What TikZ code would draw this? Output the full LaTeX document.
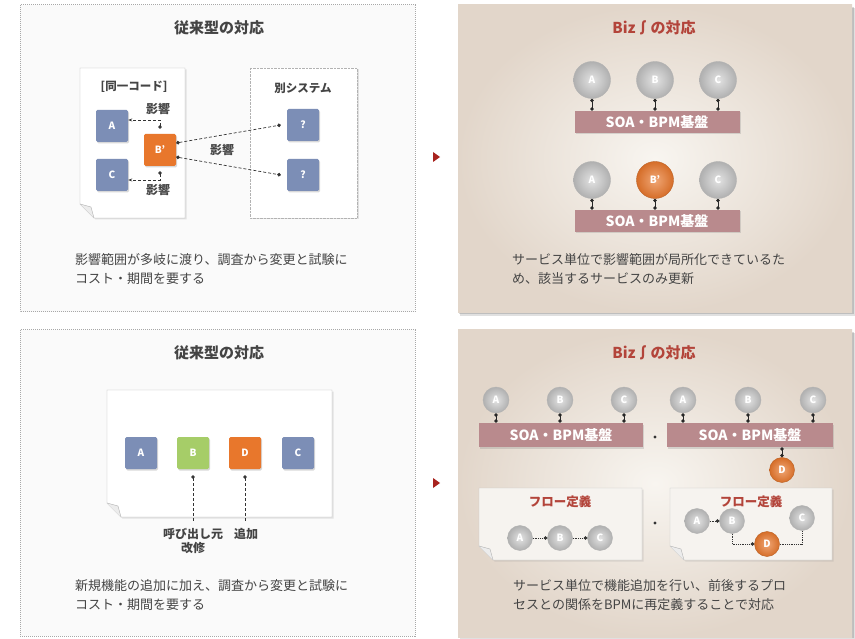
\documentclass[tikz,border=0pt]{standalone}
\usepackage{fontspec}
\setmainfont{Noto Sans CJK JP}
\usetikzlibrary{arrows.meta,shadows,calc}
\definecolor{sqblue}{HTML}{7C8EB6}
\definecolor{sqorange}{HTML}{E8772C}
\definecolor{sqgreen}{HTML}{A6CD68}
\definecolor{barrose}{HTML}{B98A8D}
\definecolor{titred}{HTML}{B3443A}
\definecolor{dashgray}{HTML}{A8A8A8}
\definecolor{txtdark}{HTML}{444444}
\definecolor{lpfill}{HTML}{FAFAFA}
\definecolor{rpin}{HTML}{F8F5F0}
\definecolor{rpout}{HTML}{E2D6CA}
\definecolor{markred}{HTML}{A8231E}
\definecolor{flowfill}{HTML}{F6F3EF}
\newcommand{\docpage}[5][]{%
  \draw[#1] (#2,#3) -- (#4,#3) -- (#4,#5) -- ($(#2,#5)+(14,0)$) -- ($(#2,#5)+(0,-14)$) -- cycle;
  \draw[draw=gray!60, fill=gray!15] ($(#2,#5)+(0,-14)$) -- ($(#2,#5)+(11,-11)$) -- ($(#2,#5)+(14,0)$);
}
\tikzset{
  lpanel/.style={draw=dashgray, densely dotted, line width=1pt, fill=lpfill},
  ttl/.style={font=\fontsize{15}{17}\selectfont\bfseries, text=txtdark},
  rttl/.style={font=\fontsize{15}{17}\selectfont\bfseries, text=titred},
  ftl/.style={font=\fontsize{12.5}{14}\selectfont\bfseries, text=titred},
  body/.style={font=\fontsize{13}{19}\selectfont, text=txtdark, align=left, anchor=north west, inner sep=0pt},
  lbl/.style={font=\fontsize{12}{14}\selectfont\bfseries, text=txtdark, inner sep=0pt},
  doclbl/.style={font=\fontsize{11.5}{13}\selectfont\bfseries, text=txtdark},
  sq/.style={rectangle, minimum size=32pt, rounded corners=1.5pt, inner sep=0pt, text=white,
    font=\fontsize{10}{11}\selectfont\bfseries,
    drop shadow={opacity=0.3, shadow xshift=1.2pt, shadow yshift=-1.5pt}},
  sqb/.style={sq, fill=sqblue},
  sqo/.style={sq, fill=sqorange},
  sqg/.style={sq, fill=sqgreen},
  ballg/.style={circle, inner sep=0pt, draw=gray!60, line width=0.4pt, shade, shading=radial,
    inner color=gray!22, outer color=gray!62, text=white, font=\fontsize{10}{11}\selectfont\bfseries},
  ballo/.style={circle, inner sep=0pt, draw=sqorange!80!black, line width=0.4pt, shade, shading=radial,
    inner color=sqorange!65!white, outer color=sqorange!92!black, text=white, font=\fontsize{10}{11}\selectfont\bfseries},
  bar/.style={rectangle, fill=barrose, text=white, inner sep=0pt, font=\fontsize{14}{16}\selectfont\bfseries,
    drop shadow={opacity=0.25, shadow xshift=1pt, shadow yshift=-1.5pt}},
  dconn/.style={densely dashed, line width=0.7pt, draw=black!80},
  fconn/.style={densely dotted, line width=0.8pt, draw=black!80},
  sconn/.style={line width=0.9pt, draw=black!85},
  bothdots/.style={{Circle[length=3.6pt]}-{Circle[length=3.6pt]}},
  enddot/.style={-{Circle[length=3.6pt]}},
  startdot/.style={{Circle[length=3.6pt]}-},
  sepdot/.style={circle, fill=black!80, inner sep=0pt, minimum size=3.4pt},
}
\begin{document}
\begin{tikzpicture}[x=1pt,y=-1pt]
\useasboundingbox (0,0) rectangle (855,639);
\fill[white] (0,0) rectangle (855,639);

% ================= top-left panel =================
\draw[lpanel] (20,5) rectangle (415,312);
\node[ttl] (t1) at (219,28) {従来型の対応};
\docpage[draw=gray!55, fill=white, drop shadow={opacity=0.2, shadow xshift=1.5pt, shadow yshift=-1.5pt}]{80}{68}{185}{218}
\draw[draw=gray!60, densely dotted, fill=white, drop shadow={opacity=0.2, shadow xshift=1.5pt, shadow yshift=-1.5pt}] (250,68) rectangle (357,218);
\node[doclbl] (l1) at (134,87) {[同一コード]};
\node[doclbl] (l2) at (303,88) {別システム};
\node[sqb] (A1) at (112,126) {A};
\node[sqb] (C1) at (112,175) {C};
\node[sqo] (B1) at (160,150) {B'};
\node[sqb] (Q1) at (303,125) {?};
\node[sqb] (Q2) at (303,175) {?};
\draw[dconn, {Circle[length=3.6pt]}-{Stealth[length=4pt]}] ([yshift=5pt]B1.north) |- ([yshift=6pt]A1.east);
\draw[dconn, {Circle[length=3.6pt]}-{Stealth[length=4pt]}] ([yshift=-5pt]B1.south) |- ([yshift=-5pt]C1.east);
\node[lbl] (e1) at (158,109) {影響};
\node[lbl] (e2) at (158,190) {影響};
\draw[dconn, bothdots] ([yshift=7pt]B1.east) -- ([xshift=-6pt]Q1.west);
\draw[dconn, bothdots] ([yshift=-7pt]B1.east) -- ([xshift=-6pt]Q2.west);
\node[lbl] (e3) at (222,150) {影響};
\node[body] (d1) at (75,253) {影響範囲が多岐に渡り、調査から変更と試験に\\コスト・期間を要する};

% markers
\fill[markred] (433,152) -- (440,157) -- (433,162) -- cycle;
\fill[markred] (433,478) -- (440,483) -- (433,488) -- cycle;

% ================= top-right panel =================
\fill[black, opacity=0.12] (460,8) rectangle (855,316);
\fill[black, opacity=0.15] (459,7) rectangle (853.5,314.5);
\shade[inner color=rpin, outer color=rpout] (458,5) rectangle (852,313);
\node[rttl] (t2) at (654,28) {Biz∫の対応};
\node[bar, minimum width=165pt, minimum height=22pt] (bar1) at (657,122) {SOA・BPM基盤};
\node[ballg, minimum size=37pt] (ra1) at (592,80) {A};
\node[ballg, minimum size=37pt] (rb1) at (655,80) {B};
\node[ballg, minimum size=37pt] (rc1) at (718,80) {C};
\foreach \n in {ra1,rb1,rc1}{\draw[sconn, bothdots] (\n.south) -- (\n.south |- bar1.north);}
\node[bar, minimum width=165pt, minimum height=22pt] (bar2) at (657,221) {SOA・BPM基盤};
\node[ballg, minimum size=37pt] (ra2) at (592,180) {A};
\node[ballo, minimum size=37pt] (rb2) at (655,180) {B'};
\node[ballg, minimum size=37pt] (rc2) at (718,180) {C};
\foreach \n in {ra2,rb2,rc2}{\draw[sconn, bothdots] (\n.south) -- (\n.south |- bar2.north);}
\node[body] (d2) at (512,253) {サービス単位で影響範囲が局所化できているた\\め、該当するサービスのみ更新};

% ================= bottom-left panel =================
\draw[lpanel] (20,330) rectangle (415,636);
\node[ttl] (t3) at (219,353) {従来型の対応};
\docpage[draw=gray!55, fill=white, drop shadow={opacity=0.2, shadow xshift=1.5pt, shadow yshift=-1.5pt}]{107}{390}{332}{517}
\node[sqb] (A3) at (141,453) {A};
\node[sqg] (B3) at (193,453) {B};
\node[sqo] (D3) at (245,453) {D};
\node[sqb] (C3) at (298,453) {C};
\coordinate (pB) at (193,521);
\coordinate (pD) at (245,521);
\draw[dconn, startdot] ([yshift=-6pt]B3.south) -- (pB);
\draw[dconn, startdot] ([yshift=-6pt]D3.south) -- (pD);
\node[lbl, align=center, anchor=north] (k1) at (193,528) {呼び出し元\\改修};
\node[lbl, anchor=north] (k2) at (246,528) {追加};
\node[body] (d3) at (75,579) {新規機能の追加に加え、調査から変更と試験に\\コスト・期間を要する};

% ================= bottom-right panel =================
\fill[black, opacity=0.12] (460,333) rectangle (855,639);
\fill[black, opacity=0.15] (459,332) rectangle (853.5,638);
\shade[inner color=rpin, outer color=rpout] (458,330) rectangle (852,637);
\node[rttl] (t4) at (654,353) {Biz∫の対応};
\node[bar, minimum width=164pt, minimum height=24pt] (bar3) at (561,435) {SOA・BPM基盤};
\node[bar, minimum width=166pt, minimum height=24pt] (bar4) at (750,435) {SOA・BPM基盤};
\node[ballg, minimum size=26pt] (sa1) at (496,400) {A};
\node[ballg, minimum size=26pt] (sb1) at (560,400) {B};
\node[ballg, minimum size=26pt] (sc1) at (624,400) {C};
\node[ballg, minimum size=26pt] (sa2) at (683,400) {A};
\node[ballg, minimum size=26pt] (sb2) at (748,400) {B};
\node[ballg, minimum size=26pt] (sc2) at (813,400) {C};
\foreach \n in {sa1,sb1,sc1}{\draw[sconn, bothdots] (\n.south) -- (\n.south |- bar3.north);}
\foreach \n in {sa2,sb2,sc2}{\draw[sconn, bothdots] (\n.south) -- (\n.south |- bar4.north);}
\node[sepdot] (s1) at (655,437) {};
\node[ballo, minimum size=25pt] (sd) at (782,470) {D};
\draw[sconn, bothdots] (sd.north |- bar4.south) -- (sd.north);

\docpage[draw=gray!45, fill=flowfill, drop shadow={opacity=0.18, shadow xshift=1.5pt, shadow yshift=-1.5pt}]{479}{488}{642}{560}
\docpage[draw=gray!45, fill=flowfill, drop shadow={opacity=0.18, shadow xshift=1.5pt, shadow yshift=-1.5pt}]{670}{488}{832}{560}
\node[ftl] (f1) at (560,502) {フロー定義};
\node[ftl] (f2) at (751,502) {フロー定義};
\node[ballg, minimum size=25pt] (fa1) at (520,538) {A};
\node[ballg, minimum size=25pt] (fb1) at (560,538) {B};
\node[ballg, minimum size=25pt] (fc1) at (600,538) {C};
\draw[fconn, enddot] (fa1.east) -- (fb1.west);
\draw[fconn, enddot] (fb1.east) -- (fc1.west);
\node[ballg, minimum size=25pt] (fa2) at (697,521) {A};
\node[ballg, minimum size=25pt] (fb2) at (732,521) {B};
\node[ballg, minimum size=25pt] (fc2) at (802,518) {C};
\node[ballo, minimum size=25pt] (fd2) at (767,544) {D};
\draw[fconn, enddot] (fa2.east) -- (fb2.west);
\draw[fconn, enddot] (fb2.south) |- (fd2.west);
\draw[fconn] (fd2.east) -| (fc2.south);
\node[sepdot] (s2) at (655,523) {};
\node[body] (d4) at (513,579) {サービス単位で機能追加を行い、前後するプロ\\セスとの関係をBPMに再定義することで対応};
\end{tikzpicture}
\end{document}
